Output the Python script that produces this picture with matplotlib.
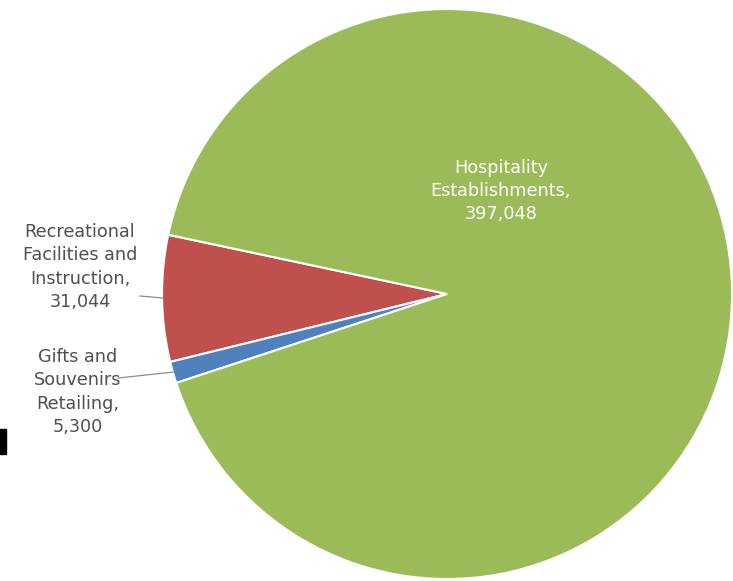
import matplotlib
matplotlib.use("Agg")
import matplotlib.pyplot as plt
from matplotlib.patches import Rectangle

categories = ["Recreational Facilities and Instruction", "Gifts and Souvenirs Retailing", "Hospitality Establishments"]
values = [31044, 5300, 397048]
label_texts = ["Recreational\nFacilities and\nInstruction,\n31,044",
               "Gifts and\nSouvenirs\nRetailing,\n5,300",
               "Hospitality\nEstablishments,\n397,048"]
colors = ["#C0504D", "#4F81BD", "#9BBB59"]

W, H = 733, 581
fig = plt.figure(figsize=(W / 100, H / 100), dpi=100)
ax = fig.add_axes([0, 0, 1, 1])

cx, cy, r = 447, H - 294, 285
wedges, _ = ax.pie(values, colors=colors, startangle=168, counterclock=True,
                   center=(cx, cy), radius=r, frame=True,
                   wedgeprops=dict(edgecolor="white", linewidth=1.5))
ax.set_xlim(0, W)
ax.set_ylim(0, H)
ax.set_aspect("equal")
ax.axis("off")

font = ["DejaVu Sans"]
fs = 12.7
gray = "#505050"
ls = 1.38
ax.text(501, H - 191, label_texts[2], ha="center", va="center", color="white",
        fontsize=fs, family=font, linespacing=ls)
ax.text(80, H - 267, label_texts[0], ha="center", va="center", color=gray,
        fontsize=fs, family=font, linespacing=ls)
ax.text(78, H - 392, label_texts[1], ha="center", va="center", color=gray,
        fontsize=fs, family=font, linespacing=ls)

# leader lines
ax.plot([140, 163], [H - 296, H - 298], color="#8c8c8c", lw=0.9)
ax.plot([118, 174], [H - 378, H - 372], color="#8c8c8c", lw=0.9)

# cropped artifact at left edge
fig.patches.append(Rectangle((0, 1 - 454 / H), 6 / W, 25 / H, transform=fig.transFigure,
                             color="black"))

fig.savefig("out.png", dpi=100)
